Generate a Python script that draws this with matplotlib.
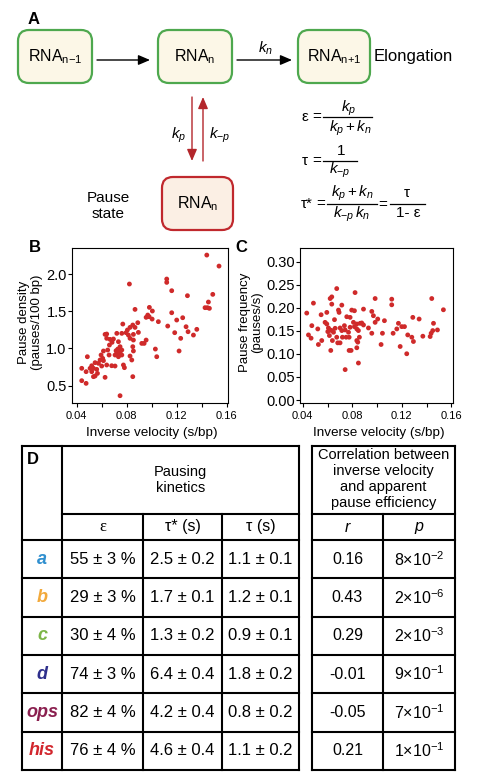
import matplotlib
matplotlib.use('Agg')
import matplotlib.pyplot as plt
from matplotlib.patches import FancyBboxPatch, FancyArrowPatch
from matplotlib.ticker import FixedLocator, FormatStrFormatter

plt.rcParams['font.family'] = ['Liberation Sans', 'DejaVu Sans']
plt.rcParams['mathtext.fontset'] = 'custom'
plt.rcParams['mathtext.rm'] = 'Liberation Sans'
plt.rcParams['mathtext.it'] = 'Liberation Sans:italic'
plt.rcParams['mathtext.bf'] = 'Liberation Sans:bold'
plt.rcParams['axes.unicode_minus'] = False

# ---------------- data ----------------
# Panel B: inverse velocity (s/bp) vs pause density (pauses/100 bp)
b_x = [0.1442, 0.1540, 0.0822, 0.1121, 0.1121, 0.1161, 0.1287, 0.1490, 0.1455, 0.1428,
       0.1447, 0.1463, 0.0867, 0.0982, 0.1006, 0.0969, 0.0980, 0.0956, 0.1004, 0.1054,
       0.1161, 0.1201, 0.1249, 0.1129, 0.1276, 0.1292, 0.1362, 0.1185, 0.1233, 0.1335,
       0.1220, 0.1030, 0.1041, 0.0889, 0.0849, 0.0827, 0.0806, 0.0867, 0.0769, 0.0894,
       0.0854, 0.0795, 0.0814, 0.0827, 0.0854, 0.0956, 0.0940, 0.0921, 0.0849, 0.0854,
       0.0827, 0.0841, 0.0849, 0.0747, 0.0721, 0.0761, 0.0694, 0.0667, 0.0640, 0.0627,
       0.0640, 0.0683, 0.0734, 0.0747, 0.0729, 0.0715, 0.0747, 0.0761, 0.0721, 0.0742,
       0.0761, 0.0707, 0.0734, 0.0662, 0.0648, 0.0614, 0.0659, 0.0595, 0.0608, 0.0587,
       0.0614, 0.0574, 0.0600, 0.0640, 0.0680, 0.0707, 0.0774, 0.0782, 0.0485, 0.0547,
       0.0520, 0.0475, 0.0440, 0.0440, 0.0475, 0.0534, 0.0520, 0.0560, 0.0534, 0.0547,
       0.0627, 0.0566, 0.0507]
b_y = [2.255, 2.107, 1.866, 1.933, 1.888, 1.776, 1.709, 1.727, 1.624, 1.548,
       1.548, 1.539, 1.525, 1.552, 1.503, 1.449, 1.427, 1.418, 1.395, 1.360,
       1.480, 1.382, 1.413, 1.301, 1.292, 1.225, 1.257, 1.212, 1.136, 1.180,
       0.966, 0.992, 0.889, 1.346, 1.315, 1.283, 1.248, 1.283, 1.328, 1.216,
       1.189, 1.212, 1.180, 1.136, 1.113, 1.113, 1.068, 1.068, 1.024, 0.966,
       0.898, 0.845, 0.621, 0.365, 1.203, 1.203, 1.127, 1.122, 1.194, 1.189,
       1.136, 1.082, 1.091, 1.024, 0.992, 0.970, 0.957, 0.979, 0.934, 0.912,
       0.912, 0.912, 0.889, 1.046, 0.979, 0.966, 0.912, 0.912, 0.867, 0.845,
       0.836, 0.800, 0.764, 0.778, 0.768, 0.764, 0.778, 0.742, 0.889, 0.809,
       0.768, 0.688, 0.733, 0.567, 0.531, 0.733, 0.688, 0.719, 0.621, 0.630,
       0.612, 0.665, 0.733]

# Panel C: inverse velocity (s/bp) vs pause frequency (pauses/s)
c_x = [0.0674, 0.0621, 0.0634, 0.0822, 0.0486, 0.0984, 0.1118, 0.1118, 0.1441, 0.1535,
       0.0432, 0.0548, 0.0594, 0.0634, 0.0688, 0.0693, 0.0715, 0.0795, 0.0817, 0.0890,
       0.0957, 0.0970, 0.1005, 0.0984, 0.1059, 0.0755, 0.0782, 0.0656, 0.0580, 0.0594,
       0.0473, 0.0521, 0.0446, 0.0467, 0.0526, 0.0553, 0.0607, 0.0621, 0.0602, 0.0634,
       0.0661, 0.0648, 0.0615, 0.0701, 0.0715, 0.0736, 0.0742, 0.0720, 0.0750, 0.0774,
       0.0674, 0.0639, 0.0682, 0.0701, 0.0769, 0.0782, 0.0817, 0.0836, 0.0849, 0.0863,
       0.0876, 0.0890, 0.0836, 0.0809, 0.0857, 0.0836, 0.0844, 0.0836, 0.0774, 0.0790,
       0.0626, 0.0930, 0.0957, 0.1043, 0.1032, 0.0742, 0.0849, 0.1129, 0.1159, 0.1172,
       0.1199, 0.1221, 0.1247, 0.1280, 0.1293, 0.1186, 0.1239, 0.1288, 0.1339, 0.1369,
       0.1428, 0.1436, 0.1449, 0.1455, 0.1487]
c_y = [0.2419, 0.2203, 0.2239, 0.2332, 0.2103, 0.2203, 0.2189, 0.2067, 0.2203, 0.1959,
       0.1887, 0.1851, 0.1902, 0.2081, 0.1952, 0.1902, 0.2060, 0.1952, 0.1938, 0.1973,
       0.1923, 0.1830, 0.1758, 0.1686, 0.1722, 0.1808, 0.1794, 0.1744, 0.1686, 0.1650,
       0.1614, 0.1543, 0.1413, 0.1342, 0.1205, 0.1291, 0.1564, 0.1521, 0.1485, 0.1507,
       0.1557, 0.1471, 0.1399, 0.1564, 0.1507, 0.1614, 0.1521, 0.1363, 0.1363, 0.1363,
       0.1363, 0.1291, 0.1241, 0.1241, 0.1471, 0.1579, 0.1593, 0.1543, 0.1507, 0.1665,
       0.1672, 0.1629, 0.1650, 0.1686, 0.1363, 0.1291, 0.1256, 0.1134, 0.1076, 0.1076,
       0.1076, 0.1564, 0.1449, 0.1449, 0.1205, 0.0660, 0.0803, 0.1449, 0.1543, 0.1665,
       0.1593, 0.1593, 0.1413, 0.1363, 0.1270, 0.1162, 0.1004, 0.1794, 0.1758, 0.1385,
       0.1378, 0.1449, 0.1507, 0.1665, 0.1521]

x_ticks = [0.04, 0.08, 0.12, 0.16]
x_minor = [0.06, 0.10, 0.14]
b_yticks = [0.5, 1.0, 1.5, 2.0]
c_yticks = [0.00, 0.05, 0.10, 0.15, 0.20, 0.25, 0.30]

# Panel D table
genes = ['a', 'b', 'c', 'd', 'ops', 'his']
gene_colors = ['#2f8fcf', '#f2a93b', '#7cb547', '#2e2f8c', '#8a1f4f', '#d2262d']
eps_vals = ['55 ± 3 %', '29 ± 3 %', '30 ± 4 %', '74 ± 3 %', '82 ± 4 %', '76 ± 4 %']
tau_star_vals = ['2.5 ± 0.2', '1.7 ± 0.1', '1.3 ± 0.2', '6.4 ± 0.4', '4.2 ± 0.4', '4.6 ± 0.4']
tau_vals = ['1.1 ± 0.1', '1.2 ± 0.1', '0.9 ± 0.1', '1.8 ± 0.2', '0.8 ± 0.2', '1.1 ± 0.2']
r_vals = ['0.16', '0.43', '0.29', '-0.01', '-0.05', '0.21']
p_mant = ['8', '2', '2', '9', '7', '1']
p_exp = ['-2', '-6', '-3', '-1', '-1', '-1']

# ---------------- figure ----------------
W, H = 484, 783
fig = plt.figure(figsize=(W / 100, H / 100), dpi=100)
ax0 = fig.add_axes([0, 0, 1, 1])
ax0.set_xlim(0, W)
ax0.set_ylim(H, 0)
ax0.axis('off')

GREEN = '#4ea84e'
CREAM = '#fcf7e7'
RED = '#c0282d'
PINK = '#fbefe4'
ARROW_RED = '#b3262b'


def rbox(x0, y0, x1, y1, ec, fc):
    p = FancyBboxPatch((x0, y0), x1 - x0, y1 - y0,
                       boxstyle='round,pad=0,rounding_size=11',
                       ec=ec, fc=fc, lw=1.6)
    ax0.add_patch(p)


def arrow(x0, y0, x1, y1, color):
    a = FancyArrowPatch((x0, y0), (x1, y1),
                        arrowstyle='-|>,head_length=0.7,head_width=0.3',
                        mutation_scale=10, color=color, lw=1.0,
                        shrinkA=0, shrinkB=0)
    ax0.add_patch(a)


# Panel A
ax0.text(34, 19, 'A', fontsize=12, fontweight='bold', ha='center', va='center')
rbox(18, 30, 92, 83, GREEN, CREAM)
rbox(158, 30, 232, 83, GREEN, CREAM)
rbox(298, 30, 370, 83, GREEN, CREAM)
rbox(162, 177, 233, 230, RED, PINK)
ax0.text(55, 57, r'RNA$_{\mathregular{n{-}1}}$', fontsize=11.5, ha='center', va='center')
ax0.text(195, 57, r'RNA$_{\mathregular{n}}$', fontsize=11.5, ha='center', va='center')
ax0.text(334, 57, r'RNA$_{\mathregular{n{+}1}}$', fontsize=11.5, ha='center', va='center')
ax0.text(197.5, 204, r'RNA$_{\mathregular{n}}$', fontsize=11.5, ha='center', va='center')
ax0.text(374, 57, 'Elongation', fontsize=12, ha='left', va='center')
arrow(97, 60, 150, 60, 'black')
arrow(237, 60, 292, 60, 'black')
ax0.text(266, 48, r'$k_n$', fontsize=11, ha='center', va='center')
arrow(192, 97, 192, 161, ARROW_RED)
arrow(203, 161, 203, 97, ARROW_RED)
ax0.text(186, 135, r'$k_p$', fontsize=11, ha='right', va='center')
ax0.text(209, 135, r'$k_{{-}p}$', fontsize=11, ha='left', va='center')
ax0.text(108, 206, 'Pause\nstate', fontsize=11, ha='center', va='center', linespacing=1.2)

# equations
EQ = 11
ax0.text(302, 117, 'ε', fontsize=EQ, ha='left', va='center')
ax0.text(312, 117, '=', fontsize=EQ, ha='left', va='center')
ax0.plot([323, 372], [117, 117], color='k', lw=0.9)
ax0.text(349, 108, r'$k_p$', fontsize=EQ, ha='center', va='center')
ax0.text(350, 128, r'$k_p + k_n$', fontsize=EQ, ha='center', va='center')

ax0.text(302, 161, 'τ', fontsize=EQ, ha='left', va='center')
ax0.text(312, 161, '=', fontsize=EQ, ha='left', va='center')
ax0.plot([323, 357], [161, 161], color='k', lw=0.9)
ax0.text(341, 151, '1', fontsize=EQ, ha='center', va='center')
ax0.text(340, 170, r'$k_{{-}p}$', fontsize=EQ, ha='center', va='center')

ax0.text(301, 204, 'τ*', fontsize=EQ, ha='left', va='center')
ax0.text(316, 204, '=', fontsize=EQ, ha='left', va='center')
ax0.plot([327, 377], [204, 204], color='k', lw=0.9)
ax0.text(352, 193, r'$k_p + k_n$', fontsize=EQ, ha='center', va='center')
ax0.text(352, 214, r'$k_{{-}p}\,k_n$', fontsize=EQ, ha='center', va='center')
ax0.text(383, 205, '=', fontsize=EQ, ha='center', va='center')
ax0.plot([390, 425], [204, 204], color='k', lw=0.9)
ax0.text(407, 193, 'τ', fontsize=EQ, ha='center', va='center')
ax0.text(408, 213, '1- ε', fontsize=EQ, ha='center', va='center')

# panel letters B, C, D
ax0.text(35, 248, 'B', fontsize=12, fontweight='bold', ha='center', va='center')
ax0.text(241, 248, 'C', fontsize=12, fontweight='bold', ha='center', va='center')
ax0.text(33, 460, 'D', fontsize=12, fontweight='bold', ha='center', va='center')

# axis labels (B and C)
ax0.text(24, 322, 'Pause density', fontsize=9.5, rotation=90, ha='center', va='center')
ax0.text(37, 322, '(pauses/100 bp)', fontsize=9.5, rotation=90, ha='center', va='center')
ax0.text(245, 322, 'Pause frequency', fontsize=9.5, rotation=90, ha='center', va='center')
ax0.text(257.5, 322, '(pauses/s)', fontsize=9.5, rotation=90, ha='center', va='center')
ax0.text(152, 433, 'Inverse velocity (s/bp)', fontsize=9.7, ha='center', va='center')
ax0.text(379, 433, 'Inverse velocity (s/bp)', fontsize=9.7, ha='center', va='center')

DOT = '#cf2a2a'


def style_scatter(ax, yticks, yfmt):
    ax.xaxis.set_major_locator(FixedLocator(x_ticks))
    ax.xaxis.set_minor_locator(FixedLocator(x_minor))
    ax.xaxis.set_major_formatter(FormatStrFormatter('%.2f'))
    ax.yaxis.set_major_locator(FixedLocator(yticks))
    ax.yaxis.set_major_formatter(FormatStrFormatter(yfmt))
    ax.tick_params(axis='x', which='both', direction='out', length=3, width=0.8,
                   labelsize=8, pad=2.5)
    ax.tick_params(axis='y', direction='out', length=3, width=0.8,
                   labelsize=10.5, pad=0.8)
    for s in ax.spines.values():
        s.set_linewidth(0.8)


# Panel B
axB = fig.add_axes([72 / W, 1 - 403 / H, 156 / W, 155 / H])
axB.scatter(b_x, b_y, s=12, color=DOT, edgecolors='none')
axB.set_xlim(0.0362, 0.1612)
axB.set_ylim(0.267, 2.35)
style_scatter(axB, b_yticks, '%.1f')

# Panel C
axC = fig.add_axes([300.3 / W, 1 - 403 / H, 152.4 / W, 155 / H])
axC.scatter(c_x, c_y, s=12, color=DOT, edgecolors='none')
axC.set_xlim(0.038, 0.161)
axC.set_ylim(-0.0065, 0.33)
style_scatter(axC, c_yticks, '%.2f')

# ---------------- Panel D table ----------------
LW = 1.5
lx = [22, 62, 143, 222, 299]
rx = [312, 383, 455]
top, hsplit = 446, 514
row_lines = [540, 578.3, 616.7, 655, 693.3, 731.7, 770]
bottom = row_lines[-1]

def hline(x0, x1, y):
    ax0.plot([x0, x1], [y, y], color='k', lw=LW, solid_capstyle='projecting')

def vline(x, y0, y1):
    ax0.plot([x, x], [y0, y1], color='k', lw=LW, solid_capstyle='projecting')

# left table
hline(lx[0], lx[-1], top)
hline(lx[1], lx[-1], hsplit)
for y in row_lines:
    hline(lx[0], lx[-1], y)
vline(lx[0], top, bottom)
vline(lx[1], top, bottom)
vline(lx[2], hsplit, bottom)
vline(lx[3], hsplit, bottom)
vline(lx[4], top, bottom)
# right table
hline(rx[0], rx[-1], top)
hline(rx[0], rx[-1], hsplit)
for y in row_lines:
    hline(rx[0], rx[-1], y)
vline(rx[0], top, bottom)
vline(rx[1], hsplit, bottom)
vline(rx[2], top, bottom)

ax0.text(180.5, 472, 'Pausing', fontsize=10.5, ha='center', va='center')
ax0.text(180.5, 488, 'kinetics', fontsize=10.5, ha='center', va='center')
for i, line in enumerate(['Correlation between', 'inverse velocity',
                          'and apparent', 'pause efficiency']):
    ax0.text(383.5, 455 + 16 * i, line, fontsize=10.5, ha='center', va='center')

hy = (hsplit + row_lines[0]) / 2
ax0.text((lx[1] + lx[2]) / 2, hy, 'ε', fontsize=12, ha='center', va='center',
         family=['Liberation Serif', 'DejaVu Serif'])
ax0.text((lx[2] + lx[3]) / 2, hy, 'τ* (s)', fontsize=11.5, ha='center', va='center')
ax0.text((lx[3] + lx[4]) / 2, hy, 'τ (s)', fontsize=11.5, ha='center', va='center')
ax0.text((rx[0] + rx[1]) / 2, hy, 'r', fontsize=11.5, style='italic', ha='center', va='center')
ax0.text((rx[1] + rx[2]) / 2, hy, 'p', fontsize=11.5, style='italic', ha='center', va='center')

VS = 12
for i in range(len(genes)):
    yc = (row_lines[i] + row_lines[i + 1]) / 2
    ax0.text((lx[0] + lx[1]) / 2, yc, genes[i], fontsize=13, fontweight='bold',
             style='italic', color=gene_colors[i], ha='center', va='center')
    ax0.text((lx[1] + lx[2]) / 2, yc, eps_vals[i], fontsize=VS, ha='center', va='center')
    ax0.text((lx[2] + lx[3]) / 2, yc, tau_star_vals[i], fontsize=VS, ha='center', va='center')
    ax0.text((lx[3] + lx[4]) / 2, yc, tau_vals[i], fontsize=VS, ha='center', va='center')
    ax0.text((rx[0] + rx[1]) / 2, yc, r_vals[i], fontsize=VS - 0.5, ha='center', va='center')
    ax0.text((rx[1] + rx[2]) / 2, yc,
             p_mant[i] + '×10$^{\\mathregular{{' + p_exp[i][0] + '}' + p_exp[i][1:] + '}}$',
             fontsize=VS - 0.5, ha='center', va='center')

fig.savefig('out.png', dpi=100)
